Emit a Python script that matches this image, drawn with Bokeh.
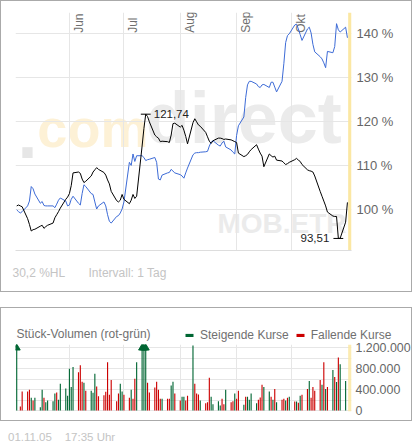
import numpy as np
import pandas as pd
from bokeh.plotting import figure
from bokeh.layouts import column
from bokeh.models import (ColumnDataSource, Range1d, FixedTicker, PrintfTickFormatter,
                          Legend, LegendItem, Title, Spacer, Div, Label)
from bokeh.core.properties import value
from bokeh.embed import file_html
from bokeh.resources import INLINE

# ---------------- data ----------------
first_day = "2005-05-03"
last_day = "2005-11-01"

# MOB.ETR, performance in % (one value per trading day, week by week)
mob_pct_weeks = [
    [100.9, 101.1, 100.9, 100.7],
    [98.0, 96.7, 95.2, 95.5, 95.6],
    [96.3, 96.5, 95.8, 96.2, 96.5],
    [97.0, 98.2, 98.9, 99.6, 100.4],
    [102.4, 102.9, 103.7, 105.5, 108.4],
    [108.6, 108.3, 107.0, 106.2, 106.5],
    [107.7, 108.6, 109.1, 109.6, 109.2],
    [108.5, 107.9, 106.8, 105.9, 104.2],
    [102.1, 101.8, 102.2, 103.5, 102.4],
    [101.4, 102.2, 103.5, 102.6, 103.1],
    [114.5, 118.5, 121.74, 121.2, 120.0],
    [117.0, 116.6, 116.3, 115.5, 115.6],
    [115.5, 115.3, 117.0, 119.6, 119.7],
    [118.8, 119.2, 118.1, 116.7, 115.0],
    [119.8, 120.7, 120.0, 119.3, 119.0],
    [117.6, 116.6, 115.6, 115.1, 115.7],
    [116.3, 116.3, 116.2, 116.0, 116.1],
    [115.9, 115.7, 115.5, 115.3, 112.9],
    [112.1, 112.3, 112.6, 113.2, 113.7],
    [114.8, 113.8, 112.9, 112.2, 109.8],
    [112.7, 112.3, 112.0, 112.2, 111.3],
    [111.1, 110.7, 110.3, 110.5, 110.8],
    [111.4, 111.7, 111.3, 111.0, 110.3],
    [109.1, 108.9, 108.8, 108.6, 107.7],
    [104.2, 103.1, 102.0, 100.9, 99.5],
    [98.6, 98.5, 98.5, 93.51, 93.55],
    [97.2, 101.7],
]

# comparison line (blue), in %
cmp_pct_weeks = [
    [100.0, 99.6, 99.3, 99.6],
    [100.9, 102.0, 105.3, 104.8, 103.6],
    [101.5, 101.9, 101.0, 100.9, 100.9],
    [100.9, 100.5, 101.3, 102.2, 102.7],
    [102.0, 100.9, 101.1, 102.4, 103.1],
    [101.5, 101.1, 103.7, 105.7, 105.3],
    [103.7, 103.5, 101.8, 100.2, 100.9],
    [101.8, 100.9, 98.9, 97.4, 97.0],
    [98.5, 98.7, 99.3, 100.2, 101.8],
    [110.8, 110.1, 112.7, 111.0, 112.3],
    [112.3, 111.9, 111.2, 111.4, 111.5],
    [111.9, 110.8, 107.0, 106.8, 107.9],
    [108.4, 108.5, 109.2, 108.8, 108.4],
    [108.0, 107.7, 107.2, 108.4, 109.5],
    [112.5, 112.9, 113.0, 113.0, 113.1],
    [113.2, 113.3, 114.5, 115.4, 115.7],
    [114.7, 114.5, 115.2, 115.6, 114.3],
    [113.6, 113.1, 112.7, 116.9, 119.1],
    [121.1, 125.5, 128.4, 129.2, 129.2],
    [128.6, 128.0, 127.8, 128.4, 128.5],
    [127.8, 129.0, 129.0, 127.9, 126.8],
    [129.2, 133.2, 138.0, 139.6, 140.0],
    [142.0, 142.2, 141.1, 139.8, 138.5],
    [141.1, 141.5, 140.2, 137.6, 135.9],
    [134.8, 134.3, 133.4, 132.3, 136.0],
    [135.7, 137.1, 142.3, 140.9, 140.4],
    [141.5, 139.1],
]

# traded volume in thousands of shares
volume_k_weeks = [
    [1350, 0, 75, 360],
    [360, 395, 245, 190, 245],
    [60, 395, 245, 155, 190],
    [175, 325, 345, 205, 510],
    [420, 280, 795, 450, 830],
    [730, 860, 550, 530, 375],
    [375, 340, 700, 455, 270],
    [290, 355, 920, 300, 580],
    [175, 325, 510, 360, 300],
    [245, 395, 225, 605, 920],
    [1400, 1400, 1400, 530, 345],
    [440, 550, 395, 225, 225],
    [225, 225, 475, 550, 325],
    [190, 260, 260, 190, 280],
    [1240, 510, 325, 305, 190],
    [140, 155, 625, 260, 120],
    [175, 95, 225, 120, 395],
    [155, 175, 325, 225, 375],
    [110, 260, 260, 205, 325],
    [140, 205, 250, 490, 450],
    [360, 260, 205, 410, 155],
    [205, 225, 190, 245, 260],
    [170, 170, 150, 280, 300],
    [410, 560, 245, 450, 375],
    [580, 490, 920, 410, 450],
    [770, 640, 545, 1010, 880],
    [560, 0],
]
# G = steigende Kurse (green), R = fallende Kurse (red)
volume_dir_weeks = [
    "GGRR", "RRGRG", "GGRGG", "GGRGG", "GGGGG", "RRRGR", "GGGRR", "RRRRR",
    "RRGGR", "RGRRG", "GGGRR", "RRRRG", "RRGGR", "RGGRR", "GRRRG", "RRRGG",
    "GGRRG", "RRGRR", "GRGGG", "GRRRG", "GRGRG", "RRGRG", "RGRGR", "RGRRR",
    "RGRGR", "GRGRG", "GG",
]

month_ticks = ["2005-06-01", "2005-07-01", "2005-08-01", "2005-09-01", "2005-10-01"]
month_labels = ["Jun", "Jul", "Aug", "Sep", "Okt"]
pct_ticks = [100, 110, 120, 130, 140]
vol_grid_ticks = [0, 200000, 400000, 600000, 800000, 1000000, 1200000]
vol_label_ticks = [0, 400000, 800000, 1200000]
vol_tick_labels = ["0", "400.000", "800.000", "1.200.000"]

# ---------------- preparation ----------------
MS_DAY = 86_400_000.0
dates = pd.bdate_range(first_day, last_day)
x_ms = np.asarray(dates.asi8 // 1_000_000, dtype=float)

mob_pct = [v for w in mob_pct_weeks for v in w]
cmp_pct = [v for w in cmp_pct_weeks for v in w]
volume = [v * 1000 for w in volume_k_weeks for v in w]
vol_dir = "".join(volume_dir_weeks)


def ts(s):
    return pd.Timestamp(s).value / 1e6


month_ms = [ts(m) for m in month_ticks]

X0, X1 = ts("2005-05-02 08:00"), ts("2005-11-03 05:40")
Y0, Y1 = 90.77, 144.84

# page geometry (used only for decorative placement)
FL, FR = 15.0, 353.0
MT, MB = 12.0, 258.0


def px_x(px):
    return X0 + (px - FL) / (FR - FL) * (X1 - X0)


def py_main(py):
    return Y0 + (MB - py) / (MB - MT) * (Y1 - Y0)


V_PER_PX = 1_200_000 / 63.0          # volume scale: 0 at page y 413, 1.2 Mio at 350


def py_vol(py):
    return (413.0 - py) * V_PER_PX


V0, V1 = py_vol(414), py_vol(347)

FONT = "Liberation Sans"
GRID = "#e6e6e6"
GREEN = "#006633"
RED = "#cc0000"
BAND = "#fbe7a3"
BORDER = "1px solid #aaaaaa"

# ---------------- main chart ----------------
p1 = figure(width=412, height=292, x_range=Range1d(X0, X1), y_range=Range1d(Y0, Y1),
            x_axis_type="datetime", y_axis_location="right",
            toolbar_location=None, output_backend="svg",
            min_border_left=14, min_border_right=60, min_border_top=11, min_border_bottom=35,
            styles={"border": BORDER})
p1.outline_line_color = None
p1.background_fill_color = "white"
p1.border_fill_color = "white"

p1.xaxis.ticker = FixedTicker(ticks=[])
p1.xaxis.axis_line_color = "#dddddd"
p1.xaxis.major_tick_line_color = None
p1.xaxis.minor_tick_line_color = None
p1.xaxis.major_tick_out = 0
p1.xaxis.major_tick_in = 0
p1.xaxis.major_label_standoff = 0
p1.xgrid.ticker = FixedTicker(ticks=month_ms)
p1.xgrid.grid_line_color = GRID

p1.yaxis.ticker = FixedTicker(ticks=pct_ticks)
p1.yaxis.formatter = PrintfTickFormatter(format="%d %%")
p1.yaxis.axis_line_color = None
p1.yaxis.major_tick_line_color = None
p1.yaxis.minor_tick_line_color = None
p1.yaxis.major_tick_out = 0
p1.yaxis.major_tick_in = 0
p1.yaxis.major_label_standoff = 5
p1.yaxis.major_label_text_font = FONT
p1.yaxis.major_label_text_font_size = "13px"
p1.yaxis.major_label_text_color = "#666666"
p1.ygrid.ticker = FixedTicker(ticks=pct_ticks)
p1.ygrid.grid_line_color = GRID

# watermark
p1.text(x=[px_x(17)], y=[py_main(162)], text=["."], text_font=value(FONT), text_font_style="bold",
        text_font_size="72px", text_color="#e6e6e6", level="image")
p1.text(x=[px_x(37)], y=[py_main(162)], text=["com"], text_font=value(FONT), text_font_style="bold",
        text_font_size="54px", text_color="#fdf1d6", level="image")
p1.text(x=[px_x(146)], y=[py_main(162)], text=["direct"], text_font=value(FONT), text_font_style="bold",
        text_font_size="72px", text_color="#ebebeb", level="image")
p1.text(x=[px_x(348)], y=[py_main(246)], text=["MOB.ETR"], text_font=value(FONT), text_font_style="bold",
        text_font_size="28px", text_color="#ebebeb", text_align="right", level="image")

# month labels
p1.text(x=month_ms, y=[py_main(33)] * len(month_ms), text=month_labels, angle=np.pi / 2,
        x_offset=2.5, text_align="left", text_baseline="top",
        text_font=value(FONT), text_font_size="12px", text_color="#6e6e6e")

# "today" band
band_left = ts(last_day) + 0.4 * MS_DAY
p1.quad(left=[band_left], right=[X1], bottom=[Y0], top=[Y1], fill_color=BAND, line_color=None)

src = ColumnDataSource(dict(x=x_ms, mob=mob_pct, cmp=cmp_pct))
p1.line("x", "cmp", source=src, line_color="#3d6bd6", line_width=1)
p1.line("x", "mob", source=src, line_color="black", line_width=1)

# high / low markers
imax = int(np.argmax(mob_pct))
imin = int(np.argmin(mob_pct))
half = 2.7 * MS_DAY
for i, off, align in [(imax, 8, "left"), (imin, -9, "right")]:
    v = mob_pct[i]
    p1.segment(x0=[x_ms[i] - half], x1=[x_ms[i] + half], y0=[v], y1=[v], line_color="black", line_width=1)
    p1.text(x=[x_ms[i]], y=[v], text=[f"{v:.2f}".replace(".", ",")], x_offset=off,
            text_align=align, text_baseline="middle", text_font=value(FONT),
            text_font_size="11.5px", text_color="#222222")

p1.add_layout(Title(text="30,2 %HL" + "\u00a0" * 7 + "Intervall: 1 Tag", align="left", offset=-3,
                    standoff=27, text_font=FONT, text_font_size="12px", text_font_style="normal",
                    text_color="#c4c4c4"), "below")

# ---------------- volume header (title + legend) ----------------
HW, HH = 412, 35
ph = figure(width=HW, height=HH, x_range=Range1d(0, HW), y_range=Range1d(0, HH),
            x_axis_location=None, y_axis_location=None, toolbar_location=None, output_backend="svg",
            min_border=0, min_border_left=0, min_border_right=0, min_border_top=0, min_border_bottom=0,
            styles={"border-top": BORDER, "border-left": BORDER, "border-right": BORDER})
try:
    ph.frame_align = False
except AttributeError:
    pass
ph.outline_line_color = None
ph.grid.visible = False
ph.border_fill_color = "white"
# legend keys (one off-canvas point each, so that the key swatch gets its colour)
lg_up = ph.vbar(x=[-50], top=[1], width=1, fill_color=GREEN, line_color=None)
lg_dn = ph.vbar(x=[-50], top=[1], width=1, fill_color=RED, line_color=None)
legend = Legend(items=[LegendItem(label="Steigende Kurse", renderers=[lg_up]),
                       LegendItem(label="Fallende Kurse", renderers=[lg_dn])],
                location=(183, 1), orientation="horizontal",
                glyph_width=10, glyph_height=4, label_height=4, label_standoff=6, spacing=6,
                padding=0, margin=0, border_line_color=None, background_fill_alpha=0,
                label_text_font=FONT, label_text_font_size="12px", label_text_color="#707070")
ph.add_layout(legend)
ph.add_layout(Label(x=15, y=10, text="Stück-Volumen (rot-grün)", text_baseline="middle",
                    text_font=FONT, text_font_size="12px", text_color="#707070"))

# ---------------- volume chart ----------------
p2 = figure(width=412, height=79, x_range=p1.x_range, y_range=Range1d(V0, V1),
            x_axis_type="datetime", y_axis_location="right",
            toolbar_location=None, output_backend="svg",
            min_border_left=14, min_border_right=60, min_border_top=2, min_border_bottom=10,
            styles={"border-bottom": BORDER, "border-left": BORDER, "border-right": BORDER})
p2.outline_line_color = None
p2.background_fill_color = "white"
p2.border_fill_color = "white"

p2.xaxis.ticker = FixedTicker(ticks=[])
p2.xaxis.axis_line_color = None
p2.xaxis.major_tick_line_color = None
p2.xaxis.minor_tick_line_color = None
p2.xaxis.major_tick_out = 0
p2.xaxis.major_tick_in = 0
p2.xaxis.major_label_standoff = 0
p2.xgrid.ticker = FixedTicker(ticks=month_ms)
p2.xgrid.grid_line_color = GRID

p2.yaxis.ticker = FixedTicker(ticks=vol_label_ticks)
p2.yaxis.major_label_overrides = {t: lab for t, lab in zip(vol_label_ticks, vol_tick_labels)}
p2.yaxis.axis_line_color = None
p2.yaxis.major_tick_line_color = None
p2.yaxis.minor_tick_line_color = None
p2.yaxis.major_tick_out = 0
p2.yaxis.major_tick_in = 0
p2.yaxis.major_label_standoff = 4
p2.yaxis.major_label_text_font = FONT
p2.yaxis.major_label_text_font_size = "12.4px"
p2.yaxis.major_label_text_color = "#666666"
p2.ygrid.ticker = FixedTicker(ticks=vol_grid_ticks)
p2.ygrid.grid_line_color = GRID

vol = np.array(volume, dtype=float)
is_up = np.array([c == "G" for c in vol_dir])
up_src = ColumnDataSource(dict(x=x_ms[is_up], top=vol[is_up]))
dn_src = ColumnDataSource(dict(x=x_ms[~is_up], top=vol[~is_up]))
bw = 0.62 * MS_DAY
p2.vbar(x="x", top="top", bottom=0, width=bw, source=up_src, fill_color=GREEN, line_color=None)
p2.vbar(x="x", top="top", bottom=0, width=bw, source=dn_src, fill_color=RED, line_color=None)

clipped = vol > V1
p2.scatter(x=x_ms[clipped], y=[py_vol(350.5)] * int(clipped.sum()), marker="triangle", size=7,
           fill_color=GREEN, line_color=GREEN)

p2.quad(left=[band_left], right=[X1], bottom=[V0], top=[V1], fill_color=BAND, fill_alpha=0.85,
        line_color=None)

date_div = Div(text="01.11.05" + "&nbsp;" * 4 + "17:35 Uhr", width=417, height=18,
               styles={"font-family": FONT, "font-size": "11.5px", "color": "#c4c4c4",
                       "padding-left": "3px", "padding-top": "5px", "line-height": "13px"})

layout = column(p1, Spacer(width=417, height=15), ph, p2, date_div, spacing=0)
open("out.html", "w").write(file_html(layout, INLINE))
